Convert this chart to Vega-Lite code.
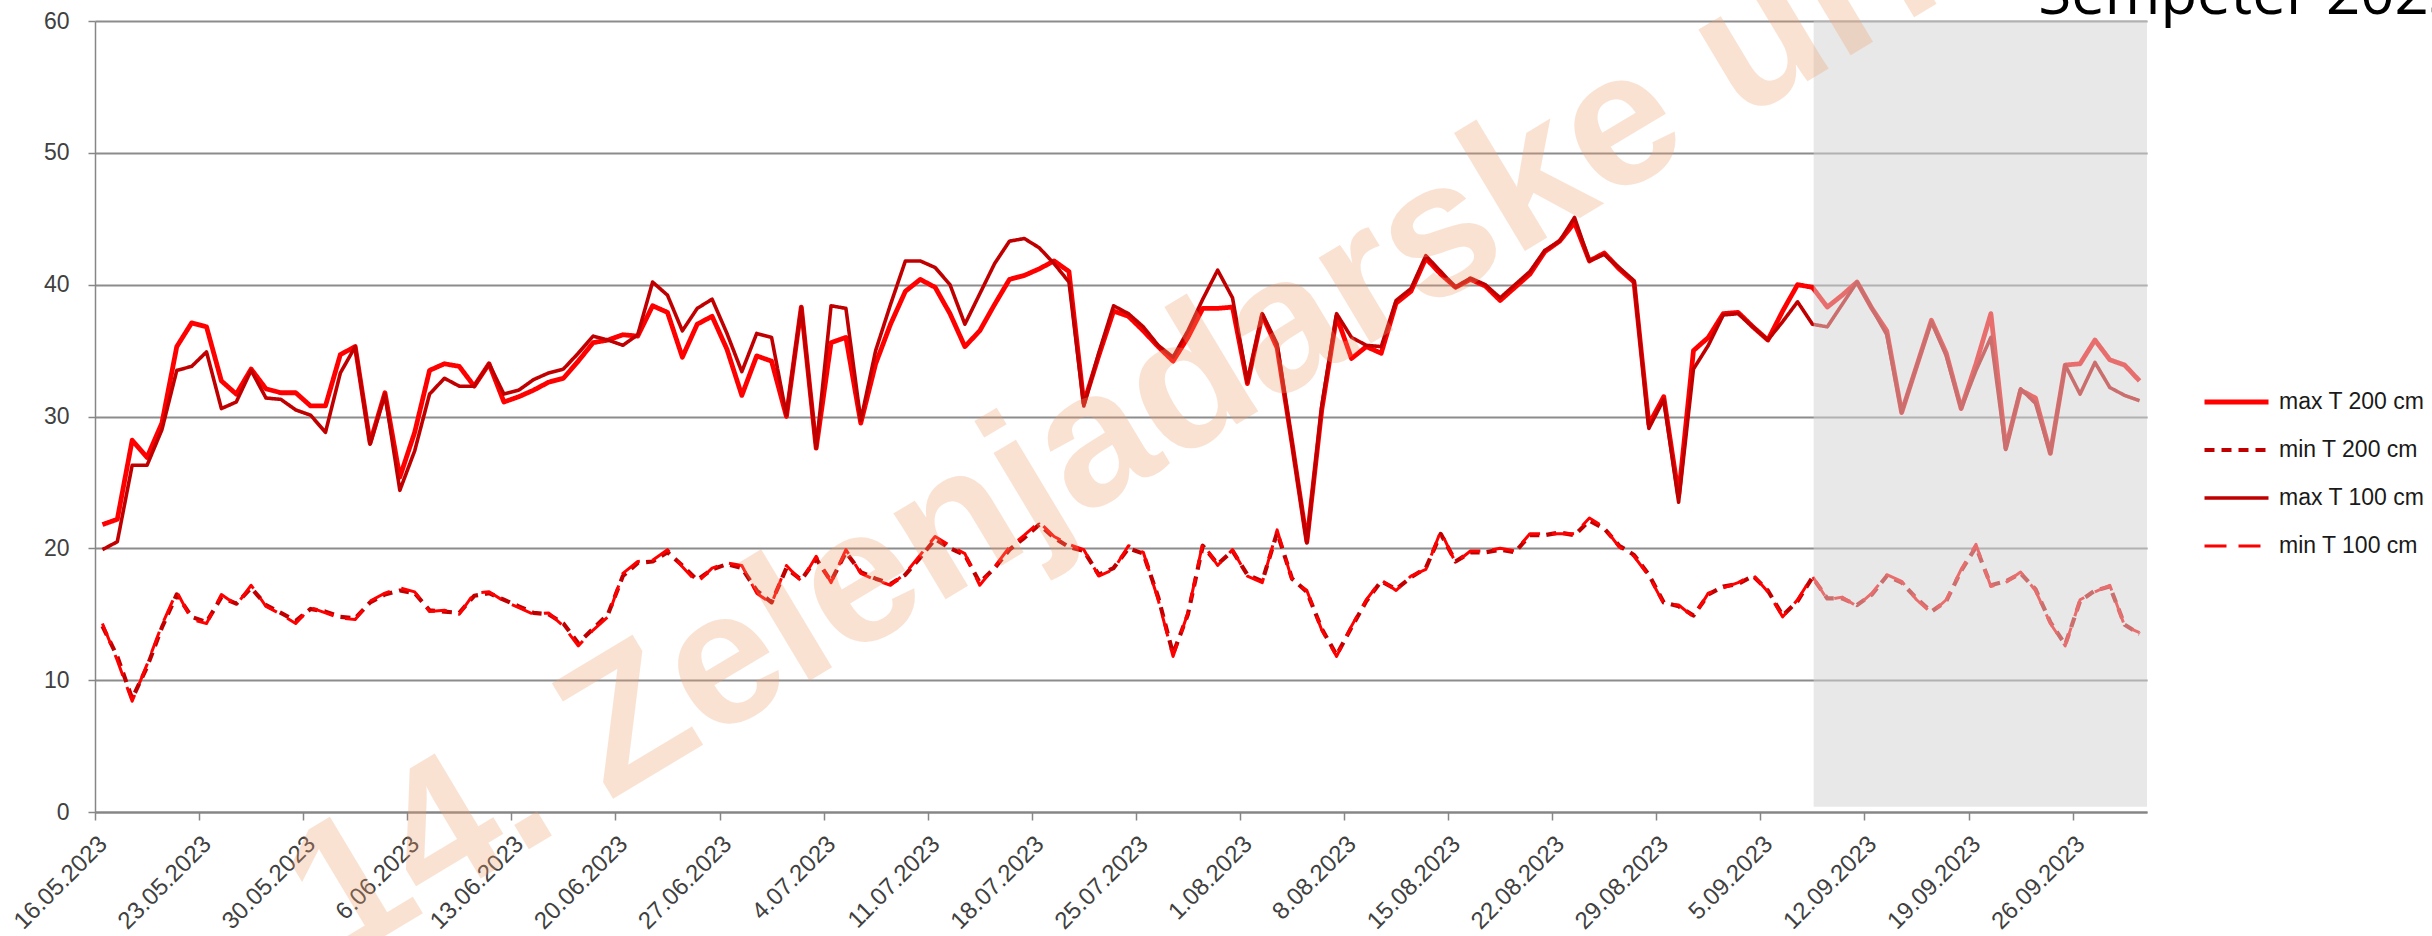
{
  "$schema": "https://vega.github.io/schema/vega-lite/v6.json",
  "autosize": {"type": "none"},
  "width": 2052,
  "height": 791,
  "padding": {"left": 95, "top": 21, "right": 285, "bottom": 124},
  "background": "white",
  "config": {
    "view": {"stroke": null},
    "font": "Liberation Sans",
    "axis": {"labelFont": "Liberation Sans", "labelColor": "#404040", "domainColor": "#868686", "tickColor": "#868686", "gridColor": "#8C8C8C"},
    "legend": {"labelFont": "Liberation Sans"}
  },
  "data": {"values": [
    {"date":"2023-05-16T12:00","max T 200 cm":21.8,"min T 200 cm":14.1,"max T 100 cm":19.9,"min T 100 cm":14.3},
    {"date":"2023-05-17T12:00","max T 200 cm":22.2,"min T 200 cm":11.8,"max T 100 cm":20.5,"min T 100 cm":11.5},
    {"date":"2023-05-18T12:00","max T 200 cm":28.2,"min T 200 cm":8.6,"max T 100 cm":26.3,"min T 100 cm":8.4},
    {"date":"2023-05-19T12:00","max T 200 cm":26.9,"min T 200 cm":11.0,"max T 100 cm":26.3,"min T 100 cm":11.2},
    {"date":"2023-05-20T12:00","max T 200 cm":29.5,"min T 200 cm":14.0,"max T 100 cm":29.0,"min T 100 cm":14.2},
    {"date":"2023-05-21T12:00","max T 200 cm":35.3,"min T 200 cm":16.5,"max T 100 cm":33.5,"min T 100 cm":16.7},
    {"date":"2023-05-22T12:00","max T 200 cm":37.1,"min T 200 cm":14.8,"max T 100 cm":33.8,"min T 100 cm":14.6},
    {"date":"2023-05-23T12:00","max T 200 cm":36.8,"min T 200 cm":14.4,"max T 100 cm":34.9,"min T 100 cm":14.3},
    {"date":"2023-05-24T12:00","max T 200 cm":32.7,"min T 200 cm":16.3,"max T 100 cm":30.6,"min T 100 cm":16.5},
    {"date":"2023-05-25T12:00","max T 200 cm":31.7,"min T 200 cm":15.8,"max T 100 cm":31.1,"min T 100 cm":15.7},
    {"date":"2023-05-26T12:00","max T 200 cm":33.6,"min T 200 cm":17.0,"max T 100 cm":33.5,"min T 100 cm":17.2},
    {"date":"2023-05-27T12:00","max T 200 cm":32.1,"min T 200 cm":15.7,"max T 100 cm":31.4,"min T 100 cm":15.6},
    {"date":"2023-05-28T12:00","max T 200 cm":31.8,"min T 200 cm":15.1,"max T 100 cm":31.3,"min T 100 cm":15.0},
    {"date":"2023-05-29T12:00","max T 200 cm":31.8,"min T 200 cm":14.5,"max T 100 cm":30.5,"min T 100 cm":14.3},
    {"date":"2023-05-30T12:00","max T 200 cm":30.8,"min T 200 cm":15.4,"max T 100 cm":30.1,"min T 100 cm":15.5},
    {"date":"2023-05-31T12:00","max T 200 cm":30.8,"min T 200 cm":15.2,"max T 100 cm":28.8,"min T 100 cm":15.1},
    {"date":"2023-06-01T12:00","max T 200 cm":34.7,"min T 200 cm":14.8,"max T 100 cm":33.3,"min T 100 cm":14.7},
    {"date":"2023-06-02T12:00","max T 200 cm":35.3,"min T 200 cm":14.7,"max T 100 cm":35.3,"min T 100 cm":14.6},
    {"date":"2023-06-03T12:00","max T 200 cm":28.0,"min T 200 cm":15.9,"max T 100 cm":27.9,"min T 100 cm":16.0},
    {"date":"2023-06-04T12:00","max T 200 cm":31.8,"min T 200 cm":16.5,"max T 100 cm":31.7,"min T 100 cm":16.6},
    {"date":"2023-06-05T12:00","max T 200 cm":25.4,"min T 200 cm":16.8,"max T 100 cm":24.4,"min T 100 cm":17.0},
    {"date":"2023-06-06T12:00","max T 200 cm":28.8,"min T 200 cm":16.6,"max T 100 cm":27.4,"min T 100 cm":16.7},
    {"date":"2023-06-07T12:00","max T 200 cm":33.5,"min T 200 cm":15.3,"max T 100 cm":31.7,"min T 100 cm":15.2},
    {"date":"2023-06-08T12:00","max T 200 cm":34.0,"min T 200 cm":15.2,"max T 100 cm":32.9,"min T 100 cm":15.3},
    {"date":"2023-06-09T12:00","max T 200 cm":33.8,"min T 200 cm":15.1,"max T 100 cm":32.3,"min T 100 cm":15.0},
    {"date":"2023-06-10T12:00","max T 200 cm":32.3,"min T 200 cm":16.4,"max T 100 cm":32.3,"min T 100 cm":16.6},
    {"date":"2023-06-11T12:00","max T 200 cm":34.0,"min T 200 cm":16.6,"max T 100 cm":34.0,"min T 100 cm":16.7},
    {"date":"2023-06-12T12:00","max T 200 cm":31.1,"min T 200 cm":16.1,"max T 100 cm":31.7,"min T 100 cm":16.0},
    {"date":"2023-06-13T12:00","max T 200 cm":31.5,"min T 200 cm":15.6,"max T 100 cm":32.0,"min T 100 cm":15.5},
    {"date":"2023-06-14T12:00","max T 200 cm":32.0,"min T 200 cm":15.1,"max T 100 cm":32.8,"min T 100 cm":15.0},
    {"date":"2023-06-15T12:00","max T 200 cm":32.6,"min T 200 cm":15.0,"max T 100 cm":33.3,"min T 100 cm":15.1},
    {"date":"2023-06-16T12:00","max T 200 cm":32.9,"min T 200 cm":14.3,"max T 100 cm":33.6,"min T 100 cm":14.1},
    {"date":"2023-06-17T12:00","max T 200 cm":34.2,"min T 200 cm":12.8,"max T 100 cm":34.8,"min T 100 cm":12.6},
    {"date":"2023-06-18T12:00","max T 200 cm":35.6,"min T 200 cm":13.9,"max T 100 cm":36.1,"min T 100 cm":13.8},
    {"date":"2023-06-19T12:00","max T 200 cm":35.8,"min T 200 cm":15.0,"max T 100 cm":35.8,"min T 100 cm":14.8},
    {"date":"2023-06-20T12:00","max T 200 cm":36.2,"min T 200 cm":17.9,"max T 100 cm":35.4,"min T 100 cm":18.1},
    {"date":"2023-06-21T12:00","max T 200 cm":36.1,"min T 200 cm":18.9,"max T 100 cm":36.2,"min T 100 cm":19.0},
    {"date":"2023-06-22T12:00","max T 200 cm":38.4,"min T 200 cm":19.0,"max T 100 cm":40.2,"min T 100 cm":19.1},
    {"date":"2023-06-23T12:00","max T 200 cm":37.9,"min T 200 cm":19.7,"max T 100 cm":39.2,"min T 100 cm":19.9},
    {"date":"2023-06-24T12:00","max T 200 cm":34.5,"min T 200 cm":18.7,"max T 100 cm":36.5,"min T 100 cm":18.6},
    {"date":"2023-06-25T12:00","max T 200 cm":37.0,"min T 200 cm":17.6,"max T 100 cm":38.2,"min T 100 cm":17.4},
    {"date":"2023-06-26T12:00","max T 200 cm":37.6,"min T 200 cm":18.4,"max T 100 cm":38.9,"min T 100 cm":18.5},
    {"date":"2023-06-27T12:00","max T 200 cm":35.1,"min T 200 cm":18.8,"max T 100 cm":36.3,"min T 100 cm":18.9},
    {"date":"2023-06-28T12:00","max T 200 cm":31.6,"min T 200 cm":18.5,"max T 100 cm":33.4,"min T 100 cm":18.7},
    {"date":"2023-06-29T12:00","max T 200 cm":34.6,"min T 200 cm":16.8,"max T 100 cm":36.3,"min T 100 cm":16.6},
    {"date":"2023-06-30T12:00","max T 200 cm":34.2,"min T 200 cm":15.9,"max T 100 cm":36.0,"min T 100 cm":15.8},
    {"date":"2023-07-01T12:00","max T 200 cm":30.0,"min T 200 cm":18.5,"max T 100 cm":30.1,"min T 100 cm":18.7},
    {"date":"2023-07-02T12:00","max T 200 cm":38.3,"min T 200 cm":17.6,"max T 100 cm":38.3,"min T 100 cm":17.5},
    {"date":"2023-07-03T12:00","max T 200 cm":27.6,"min T 200 cm":19.2,"max T 100 cm":27.6,"min T 100 cm":19.4},
    {"date":"2023-07-04T12:00","max T 200 cm":35.6,"min T 200 cm":17.5,"max T 100 cm":38.4,"min T 100 cm":17.4},
    {"date":"2023-07-05T12:00","max T 200 cm":36.0,"min T 200 cm":19.7,"max T 100 cm":38.2,"min T 100 cm":19.9},
    {"date":"2023-07-06T12:00","max T 200 cm":29.5,"min T 200 cm":18.2,"max T 100 cm":29.7,"min T 100 cm":18.1},
    {"date":"2023-07-07T12:00","max T 200 cm":34.0,"min T 200 cm":17.7,"max T 100 cm":35.0,"min T 100 cm":17.6},
    {"date":"2023-07-08T12:00","max T 200 cm":37.0,"min T 200 cm":17.3,"max T 100 cm":38.5,"min T 100 cm":17.2},
    {"date":"2023-07-09T12:00","max T 200 cm":39.5,"min T 200 cm":18.0,"max T 100 cm":41.8,"min T 100 cm":18.1},
    {"date":"2023-07-10T12:00","max T 200 cm":40.4,"min T 200 cm":19.3,"max T 100 cm":41.8,"min T 100 cm":19.5},
    {"date":"2023-07-11T12:00","max T 200 cm":39.8,"min T 200 cm":20.7,"max T 100 cm":41.3,"min T 100 cm":20.9},
    {"date":"2023-07-12T12:00","max T 200 cm":37.8,"min T 200 cm":20.0,"max T 100 cm":40.0,"min T 100 cm":20.2},
    {"date":"2023-07-13T12:00","max T 200 cm":35.3,"min T 200 cm":19.5,"max T 100 cm":37.0,"min T 100 cm":19.6},
    {"date":"2023-07-14T12:00","max T 200 cm":36.5,"min T 200 cm":17.4,"max T 100 cm":39.3,"min T 100 cm":17.2},
    {"date":"2023-07-15T12:00","max T 200 cm":38.5,"min T 200 cm":18.5,"max T 100 cm":41.6,"min T 100 cm":18.6},
    {"date":"2023-07-16T12:00","max T 200 cm":40.4,"min T 200 cm":19.9,"max T 100 cm":43.3,"min T 100 cm":20.1},
    {"date":"2023-07-17T12:00","max T 200 cm":40.7,"min T 200 cm":20.8,"max T 100 cm":43.5,"min T 100 cm":21.0},
    {"date":"2023-07-18T12:00","max T 200 cm":41.2,"min T 200 cm":21.8,"max T 100 cm":42.8,"min T 100 cm":22.0},
    {"date":"2023-07-19T12:00","max T 200 cm":41.8,"min T 200 cm":20.8,"max T 100 cm":41.6,"min T 100 cm":20.9},
    {"date":"2023-07-20T12:00","max T 200 cm":41.0,"min T 200 cm":20.1,"max T 100 cm":40.2,"min T 100 cm":20.3},
    {"date":"2023-07-21T12:00","max T 200 cm":31.0,"min T 200 cm":19.8,"max T 100 cm":30.8,"min T 100 cm":19.9},
    {"date":"2023-07-22T12:00","max T 200 cm":34.6,"min T 200 cm":18.0,"max T 100 cm":34.8,"min T 100 cm":17.9},
    {"date":"2023-07-23T12:00","max T 200 cm":38.0,"min T 200 cm":18.5,"max T 100 cm":38.4,"min T 100 cm":18.4},
    {"date":"2023-07-24T12:00","max T 200 cm":37.6,"min T 200 cm":20.0,"max T 100 cm":37.8,"min T 100 cm":20.2},
    {"date":"2023-07-25T12:00","max T 200 cm":36.5,"min T 200 cm":19.6,"max T 100 cm":36.8,"min T 100 cm":19.7},
    {"date":"2023-07-26T12:00","max T 200 cm":35.3,"min T 200 cm":16.3,"max T 100 cm":35.4,"min T 100 cm":16.1},
    {"date":"2023-07-27T12:00","max T 200 cm":34.2,"min T 200 cm":12.0,"max T 100 cm":34.5,"min T 100 cm":11.8},
    {"date":"2023-07-28T12:00","max T 200 cm":36.0,"min T 200 cm":15.0,"max T 100 cm":36.5,"min T 100 cm":15.1},
    {"date":"2023-07-29T12:00","max T 200 cm":38.2,"min T 200 cm":20.2,"max T 100 cm":38.9,"min T 100 cm":20.4},
    {"date":"2023-07-30T12:00","max T 200 cm":38.2,"min T 200 cm":18.8,"max T 100 cm":41.1,"min T 100 cm":18.7},
    {"date":"2023-07-31T12:00","max T 200 cm":38.3,"min T 200 cm":19.8,"max T 100 cm":39.0,"min T 100 cm":19.9},
    {"date":"2023-08-01T12:00","max T 200 cm":32.5,"min T 200 cm":18.0,"max T 100 cm":32.6,"min T 100 cm":17.9},
    {"date":"2023-08-02T12:00","max T 200 cm":37.7,"min T 200 cm":17.5,"max T 100 cm":37.8,"min T 100 cm":17.4},
    {"date":"2023-08-03T12:00","max T 200 cm":35.2,"min T 200 cm":21.2,"max T 100 cm":35.5,"min T 100 cm":21.4},
    {"date":"2023-08-04T12:00","max T 200 cm":28.0,"min T 200 cm":17.7,"max T 100 cm":28.0,"min T 100 cm":17.6},
    {"date":"2023-08-05T12:00","max T 200 cm":20.5,"min T 200 cm":16.7,"max T 100 cm":20.4,"min T 100 cm":16.8},
    {"date":"2023-08-06T12:00","max T 200 cm":30.5,"min T 200 cm":13.9,"max T 100 cm":30.8,"min T 100 cm":13.8},
    {"date":"2023-08-07T12:00","max T 200 cm":37.6,"min T 200 cm":11.9,"max T 100 cm":37.8,"min T 100 cm":11.8},
    {"date":"2023-08-08T12:00","max T 200 cm":34.4,"min T 200 cm":14.0,"max T 100 cm":36.0,"min T 100 cm":14.1},
    {"date":"2023-08-09T12:00","max T 200 cm":35.3,"min T 200 cm":16.0,"max T 100 cm":35.4,"min T 100 cm":16.1},
    {"date":"2023-08-10T12:00","max T 200 cm":34.8,"min T 200 cm":17.5,"max T 100 cm":35.3,"min T 100 cm":17.6},
    {"date":"2023-08-11T12:00","max T 200 cm":38.6,"min T 200 cm":16.9,"max T 100 cm":38.8,"min T 100 cm":16.8},
    {"date":"2023-08-12T12:00","max T 200 cm":39.5,"min T 200 cm":17.8,"max T 100 cm":39.7,"min T 100 cm":17.9},
    {"date":"2023-08-13T12:00","max T 200 cm":42.0,"min T 200 cm":18.5,"max T 100 cm":42.2,"min T 100 cm":18.4},
    {"date":"2023-08-14T12:00","max T 200 cm":40.8,"min T 200 cm":21.1,"max T 100 cm":41.0,"min T 100 cm":21.3},
    {"date":"2023-08-15T12:00","max T 200 cm":39.8,"min T 200 cm":19.0,"max T 100 cm":39.8,"min T 100 cm":18.9},
    {"date":"2023-08-16T12:00","max T 200 cm":40.4,"min T 200 cm":19.7,"max T 100 cm":40.5,"min T 100 cm":19.8},
    {"date":"2023-08-17T12:00","max T 200 cm":39.9,"min T 200 cm":19.7,"max T 100 cm":40.0,"min T 100 cm":19.8},
    {"date":"2023-08-18T12:00","max T 200 cm":38.8,"min T 200 cm":19.9,"max T 100 cm":39.0,"min T 100 cm":20.0},
    {"date":"2023-08-19T12:00","max T 200 cm":39.8,"min T 200 cm":19.7,"max T 100 cm":40.0,"min T 100 cm":19.8},
    {"date":"2023-08-20T12:00","max T 200 cm":40.8,"min T 200 cm":21.0,"max T 100 cm":41.0,"min T 100 cm":21.1},
    {"date":"2023-08-21T12:00","max T 200 cm":42.5,"min T 200 cm":21.0,"max T 100 cm":42.6,"min T 100 cm":21.1},
    {"date":"2023-08-22T12:00","max T 200 cm":43.3,"min T 200 cm":21.2,"max T 100 cm":43.3,"min T 100 cm":21.1},
    {"date":"2023-08-23T12:00","max T 200 cm":44.7,"min T 200 cm":21.0,"max T 100 cm":45.1,"min T 100 cm":21.1},
    {"date":"2023-08-24T12:00","max T 200 cm":41.8,"min T 200 cm":22.1,"max T 100 cm":41.8,"min T 100 cm":22.3},
    {"date":"2023-08-25T12:00","max T 200 cm":42.4,"min T 200 cm":21.5,"max T 100 cm":42.3,"min T 100 cm":21.6},
    {"date":"2023-08-26T12:00","max T 200 cm":41.2,"min T 200 cm":20.2,"max T 100 cm":41.3,"min T 100 cm":20.1},
    {"date":"2023-08-27T12:00","max T 200 cm":40.2,"min T 200 cm":19.5,"max T 100 cm":40.3,"min T 100 cm":19.4},
    {"date":"2023-08-28T12:00","max T 200 cm":29.4,"min T 200 cm":18.0,"max T 100 cm":29.1,"min T 100 cm":17.9},
    {"date":"2023-08-29T12:00","max T 200 cm":31.5,"min T 200 cm":15.9,"max T 100 cm":31.3,"min T 100 cm":15.8},
    {"date":"2023-08-30T12:00","max T 200 cm":24.0,"min T 200 cm":15.6,"max T 100 cm":23.5,"min T 100 cm":15.7},
    {"date":"2023-08-31T12:00","max T 200 cm":35.0,"min T 200 cm":14.9,"max T 100 cm":33.6,"min T 100 cm":14.8},
    {"date":"2023-09-01T12:00","max T 200 cm":36.0,"min T 200 cm":16.5,"max T 100 cm":35.4,"min T 100 cm":16.6},
    {"date":"2023-09-02T12:00","max T 200 cm":37.8,"min T 200 cm":17.1,"max T 100 cm":37.7,"min T 100 cm":17.0},
    {"date":"2023-09-03T12:00","max T 200 cm":37.9,"min T 200 cm":17.3,"max T 100 cm":37.8,"min T 100 cm":17.4},
    {"date":"2023-09-04T12:00","max T 200 cm":36.8,"min T 200 cm":17.9,"max T 100 cm":36.8,"min T 100 cm":18.0},
    {"date":"2023-09-05T12:00","max T 200 cm":35.8,"min T 200 cm":16.8,"max T 100 cm":35.8,"min T 100 cm":16.7},
    {"date":"2023-09-06T12:00","max T 200 cm":38.0,"min T 200 cm":14.9,"max T 100 cm":37.2,"min T 100 cm":14.8},
    {"date":"2023-09-07T12:00","max T 200 cm":40.0,"min T 200 cm":16.0,"max T 100 cm":38.7,"min T 100 cm":16.1},
    {"date":"2023-09-08T12:00","max T 200 cm":39.8,"min T 200 cm":17.8,"max T 100 cm":37.0,"min T 100 cm":17.9},
    {"date":"2023-09-09T12:00","max T 200 cm":38.3,"min T 200 cm":16.2,"max T 100 cm":36.8,"min T 100 cm":16.1},
    {"date":"2023-09-10T12:00","max T 200 cm":39.2,"min T 200 cm":16.2,"max T 100 cm":38.5,"min T 100 cm":16.3},
    {"date":"2023-09-11T12:00","max T 200 cm":40.2,"min T 200 cm":15.7,"max T 100 cm":40.2,"min T 100 cm":15.6},
    {"date":"2023-09-12T12:00","max T 200 cm":38.2,"min T 200 cm":16.5,"max T 100 cm":38.2,"min T 100 cm":16.6},
    {"date":"2023-09-13T12:00","max T 200 cm":36.5,"min T 200 cm":17.9,"max T 100 cm":36.2,"min T 100 cm":18.0},
    {"date":"2023-09-14T12:00","max T 200 cm":30.3,"min T 200 cm":17.4,"max T 100 cm":30.3,"min T 100 cm":17.5},
    {"date":"2023-09-15T12:00","max T 200 cm":33.8,"min T 200 cm":16.2,"max T 100 cm":33.8,"min T 100 cm":16.1},
    {"date":"2023-09-16T12:00","max T 200 cm":37.3,"min T 200 cm":15.2,"max T 100 cm":37.2,"min T 100 cm":15.1},
    {"date":"2023-09-17T12:00","max T 200 cm":34.8,"min T 200 cm":16.0,"max T 100 cm":34.6,"min T 100 cm":16.1},
    {"date":"2023-09-18T12:00","max T 200 cm":30.6,"min T 200 cm":18.3,"max T 100 cm":30.6,"min T 100 cm":18.4},
    {"date":"2023-09-19T12:00","max T 200 cm":34.0,"min T 200 cm":20.1,"max T 100 cm":33.5,"min T 100 cm":20.3},
    {"date":"2023-09-20T12:00","max T 200 cm":37.8,"min T 200 cm":17.2,"max T 100 cm":36.0,"min T 100 cm":17.1},
    {"date":"2023-09-21T12:00","max T 200 cm":27.6,"min T 200 cm":17.5,"max T 100 cm":27.5,"min T 100 cm":17.4},
    {"date":"2023-09-22T12:00","max T 200 cm":32.0,"min T 200 cm":18.1,"max T 100 cm":32.1,"min T 100 cm":18.2},
    {"date":"2023-09-23T12:00","max T 200 cm":31.4,"min T 200 cm":16.9,"max T 100 cm":31.0,"min T 100 cm":16.8},
    {"date":"2023-09-24T12:00","max T 200 cm":27.2,"min T 200 cm":14.4,"max T 100 cm":27.2,"min T 100 cm":14.3},
    {"date":"2023-09-25T12:00","max T 200 cm":33.9,"min T 200 cm":12.7,"max T 100 cm":33.9,"min T 100 cm":12.6},
    {"date":"2023-09-26T12:00","max T 200 cm":34.0,"min T 200 cm":16.0,"max T 100 cm":31.7,"min T 100 cm":16.1},
    {"date":"2023-09-27T12:00","max T 200 cm":35.8,"min T 200 cm":16.8,"max T 100 cm":34.1,"min T 100 cm":16.7},
    {"date":"2023-09-28T12:00","max T 200 cm":34.3,"min T 200 cm":17.1,"max T 100 cm":32.2,"min T 100 cm":17.2},
    {"date":"2023-09-29T12:00","max T 200 cm":33.9,"min T 200 cm":14.2,"max T 100 cm":31.6,"min T 100 cm":14.1},
    {"date":"2023-09-30T12:00","max T 200 cm":32.7,"min T 200 cm":13.5,"max T 100 cm":31.2,"min T 100 cm":13.6}
  ]},
  "layer": [
    {
      "transform": [{"fold": ["max T 200 cm", "min T 200 cm", "max T 100 cm", "min T 100 cm"], "as": ["series", "value"]}],
      "mark": {"type": "line", "strokeJoin": "round", "strokeCap": "butt"},
      "encoding": {
        "x": {"field": "date", "type": "temporal",
              "scale": {"domain": [{"year": 2023, "month": 5, "date": 16}, {"year": 2023, "month": 10, "date": 1}], "nice": false},
              "axis": {"title": null, "grid": false, "format": "%-d.%m.%Y", "formatType": "time",
                       "values": [{"year":2023,"month":5,"date":16},{"year":2023,"month":5,"date":23},{"year":2023,"month":5,"date":30},{"year":2023,"month":6,"date":6},{"year":2023,"month":6,"date":13},{"year":2023,"month":6,"date":20},{"year":2023,"month":6,"date":27},{"year":2023,"month":7,"date":4},{"year":2023,"month":7,"date":11},{"year":2023,"month":7,"date":18},{"year":2023,"month":7,"date":25},{"year":2023,"month":8,"date":1},{"year":2023,"month":8,"date":8},{"year":2023,"month":8,"date":15},{"year":2023,"month":8,"date":22},{"year":2023,"month":8,"date":29},{"year":2023,"month":9,"date":5},{"year":2023,"month":9,"date":12},{"year":2023,"month":9,"date":19},{"year":2023,"month":9,"date":26}],
                       "labelAngle": -45, "labelAlign": "right", "labelBaseline": "middle", "labelFontSize": 24, "labelPadding": 20, "labelOffset": 8,
                       "tickSize": 8, "tickWidth": 1.5, "domainWidth": 2, "labelOverlap": false, "labelBound": false, "labelFlush": false}},
        "y": {"field": "value", "type": "quantitative",
              "scale": {"domain": [0, 60], "nice": false, "zero": true},
              "axis": {"title": null, "values": [0, 10, 20, 30, 40, 50, 60], "grid": true, "gridWidth": 2, "domainWidth": 1.5, "tickSize": 7, "tickWidth": 1.5, "labelFontSize": 23, "labelPadding": 19}},
        "color": {"field": "series", "type": "nominal",
                  "scale": {"domain": ["max T 200 cm", "min T 200 cm", "max T 100 cm", "min T 100 cm"], "range": ["#FF0000", "#C00000", "#C00000", "#FF0000"]},
                  "legend": {"orient": "none", "legendX": 2107, "legendY": 359, "title": null, "symbolType": "stroke", "symbolSize": 4096, "labelFontSize": 23, "labelColor": "#1a1a1a", "labelOffset": 8, "clipHeight": 44, "rowPadding": 4, "padding": 0}},
        "strokeDash": {"field": "series", "type": "nominal",
                       "scale": {"domain": ["max T 200 cm", "min T 200 cm", "max T 100 cm", "min T 100 cm"], "range": [[1, 0], [10, 7], [1, 0], [22, 12]]}},
        "strokeWidth": {"field": "series", "type": "nominal",
                        "scale": {"domain": ["max T 200 cm", "min T 200 cm", "max T 100 cm", "min T 100 cm"], "range": [4.8, 3, 4.8, 5]}}
      }
    },
    {
      "data": {"values": [{}]},
      "mark": {"type": "rect", "fill": "#D3D3D3", "opacity": 0.52},
      "encoding": {
        "x": {"datum": {"year": 2023, "month": 9, "date": 8, "hours": 14}, "type": "temporal"},
        "x2": {"datum": {"year": 2023, "month": 10, "date": 1}},
        "y": {"datum": 60, "type": "quantitative"},
        "y2": {"datum": 0.4}
      }
    },
    {
      "data": {"values": [{}]},
      "mark": {"type": "text", "text": "14. Zelenjadarske urice", "font": "Liberation Sans", "fontWeight": "bold", "fontSize": 190, "angle": -31, "align": "left", "baseline": "alphabetic", "fill": "#F0A070", "opacity": 0.3},
      "encoding": {
        "x": {"datum": {"year": 2023, "month": 6, "date": 1, "hours": 6}, "type": "temporal"},
        "y": {"datum": -11.6, "type": "quantitative"}
      }
    },
    {
      "data": {"values": [{}]},
      "mark": {"type": "text", "text": "Šempeter 2023", "font": "Open Sans", "fontSize": 60, "align": "left", "baseline": "alphabetic", "fill": "#000000"},
      "encoding": {
        "x": {"datum": {"year": 2023, "month": 9, "date": 23, "hours": 16, "minutes": 30}, "type": "temporal"},
        "y": {"datum": 60.53, "type": "quantitative"}
      }
    }
  ]
}
